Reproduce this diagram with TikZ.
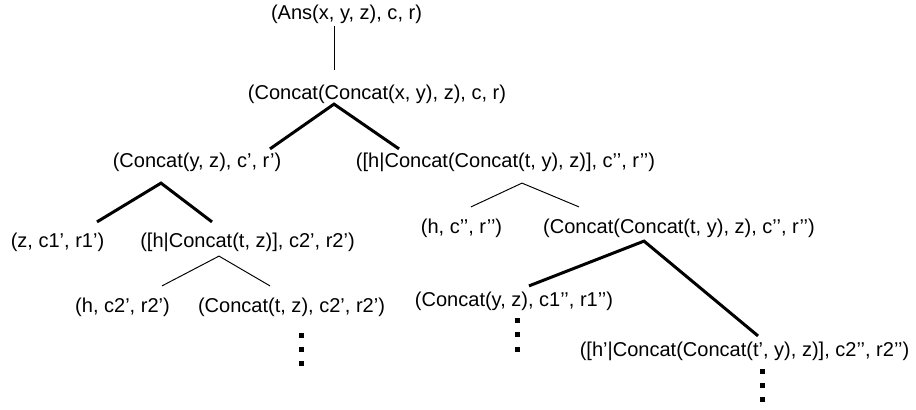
\documentclass[tikz,border=0pt]{standalone}
\usepackage{fontspec}
\setmainfont{Liberation Sans}
\usepackage{tikz}
\usetikzlibrary{calc}

\begin{document}
\begin{tikzpicture}[
  x=0.02cm, y=-0.02cm,
  state/.style={inner sep=0pt, text height=0.73em, text depth=0.21em,
    font=\fontsize{11.4}{13}\selectfont},
  heavy/.style={line width=1.7pt},
  light/.style={line width=0.55pt}
]

\useasboundingbox (0, 0) rectangle (916, 409);

% ==================== States ====================
\node[state] (n0)  at (346.5, 15)  {(Ans(x, y, z), c, r)};
\node[state] (n1)  at (377, 95)    {(Concat(Concat(x, y), z), c, r)};
\node[state] (n2)  at (197, 163)   {(Concat(y, z), c’, r’)};
\node[state] (n3)  at (505.5, 163) {([h|Concat(Concat(t, y), z)], c’’, r’’)};
\node[state] (n4)  at (57.5, 243)  {(z, c1’, r1’)};
\node[state] (n5)  at (247.5, 243) {([h|Concat(t, z)], c2’, r2’)};
\node[state] (n6)  at (122.5, 308) {(h, c2’, r2’)};
\node[state] (n7)  at (291.5, 308) {(Concat(t, z), c2’, r2’)};
\node[state] (n8)  at (461.5, 229) {(h, c’’, r’’)};
\node[state] (n9)  at (679, 229)   {(Concat(Concat(t, y), z), c’’, r’’)};
\node[state] (n10) at (514, 302)   {(Concat(y, z), c1’’, r1’’)};
\node[state] (n11) at (744.5, 352) {([h’|Concat(Concat(t’, y), z)], c2’’, r2’’)};

% ==================== Branches ====================
\draw[light] ($(n0.south)+(-12.5,2.5)$) -- ($(n1.north)+(-43,-16.5)$);

% Concat split
\draw[heavy] ($(n2.north)+(73,-5.5)$) -- ($(n1.south)+(-43,0.5)$) -- ($(n3.north)+(-106.5,-5.5)$);

% left subtree
\draw[heavy] ($(n4.north)+(39.5,-12.5)$) -- ($(n2.south)+(-36,11.5)$) -- ($(n5.north)+(-35.5,-12.5)$);
\draw[light] ($(n6.north)+(39.5,-13.5)$) -- ($(n5.south)+(-28.5,4.5)$) -- ($(n7.north)+(-21.5,-13.5)$);

% right subtree
\draw[light] ($(n8.north)+(9.5,-13.5)$) -- ($(n3.south)+(16.5,11.5)$) -- ($(n9.north)+(-100,-13.5)$);
\draw[heavy] ($(n10.north)+(15,-7.5)$) -- ($(n9.south)+(-35,3.5)$) -- ($(n11.north)+(13.5,-7.5)$);

% Continuation dots
\foreach \k in {0,1,2} {
  \fill ($(n7.south)+(9.5,18.5+14*\k)$) +(-2.5,-2.5) rectangle +(2.5,2.5);
  \fill ($(n10.south)+(3,9.5+14.5*\k)$) +(-2.5,-2.5) rectangle +(2.5,2.5);
  \fill ($(n11.south)+(17.5,10.5+14*\k)$) +(-2.5,-2.5) rectangle +(2.5,2.5);
}

\end{tikzpicture}
\end{document}
